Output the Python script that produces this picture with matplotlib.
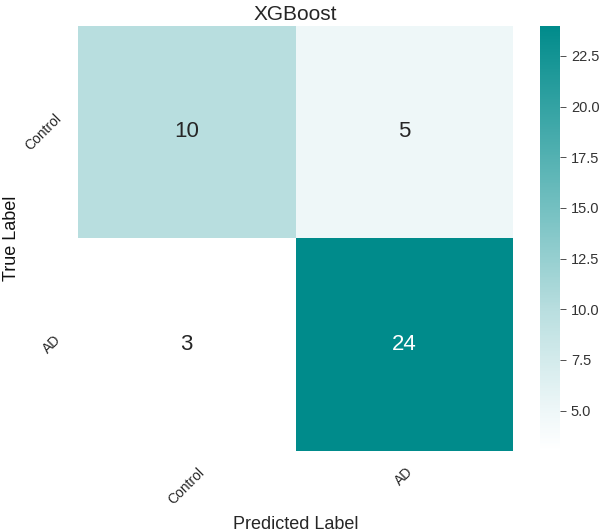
import numpy as np
import matplotlib
matplotlib.use("Agg")
import matplotlib.pyplot as plt
import seaborn as sns
from matplotlib.colors import LinearSegmentedColormap

labels = ["Control", "AD"]
cm = np.array([[10, 5],
               [3, 24]])

plt.rcParams['font.family'] = ['Liberation Sans', 'DejaVu Sans']
plt.rcParams['text.color'] = '#262626'
plt.rcParams['axes.labelcolor'] = '#262626'

# white -> teal, a bit lighter in the low end
cmap = LinearSegmentedColormap.from_list(
    "teal", [(0.0, "#ffffff"), (0.095, "#eef7f8"), (0.333, "#b8dedf"),
             (0.57, "#74c0c1"), (1.0, "#008b8b")])

fig = plt.figure(figsize=(6, 5.32), dpi=100)
ax = fig.add_axes([0.13, 0.152, 0.725, 0.800])
cax = fig.add_axes([0.90, 0.152, 0.034, 0.800])

sns.heatmap(cm, annot=True, fmt="d", cmap=cmap, ax=ax, cbar_ax=cax,
            xticklabels=labels, yticklabels=labels,
            annot_kws={"fontsize": 16})

ax.set_title("XGBoost", fontsize=15, pad=4)
ax.set_xlabel("Predicted Label", fontsize=13)
ax.set_ylabel("True Label", fontsize=13, color="#111111")
ax.xaxis.set_label_coords(0.5, -0.152)
ax.yaxis.set_label_coords(-0.133, 0.5)
ax.tick_params(length=0, labelsize=10, pad=10, colors="#262626")
plt.setp(ax.get_xticklabels(), rotation=45, ha="center")
plt.setp(ax.get_yticklabels(), rotation=45, va="center")
cax.tick_params(labelsize=10.5, length=4, width=0.6, colors="#333333")
for s in cax.spines.values():
    s.set_visible(False)

fig.savefig("out.png", dpi=100)
